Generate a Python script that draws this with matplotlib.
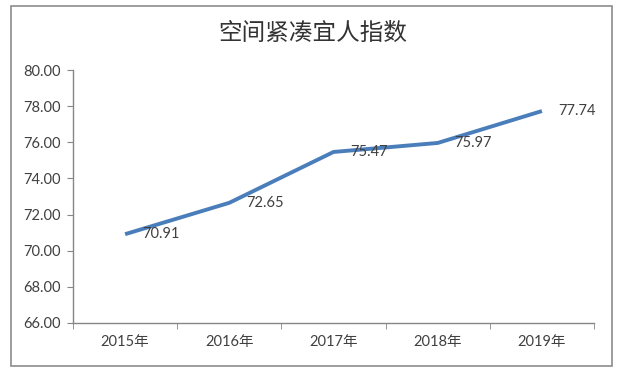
import matplotlib
matplotlib.use("Agg")
import matplotlib.pyplot as plt
from matplotlib.patches import Rectangle

plt.rcParams['font.family'] = ['Lato', 'Noto Sans CJK SC', 'DejaVu Sans']

title = "空间紧凑宜人指数"
categories = ["2015年", "2016年", "2017年", "2018年", "2019年"]
values = [70.91, 72.65, 75.47, 75.97, 77.74]
y_ticks = [66, 68, 70, 72, 74, 76, 78, 80]

W, H = 620, 372
fig = plt.figure(figsize=(W / 100, H / 100), dpi=100)
fig.patch.set_facecolor("white")

# outer border
fig.patches.append(Rectangle((11 / W, 1 - 366 / H), (612 - 11) / W, (366 - 6) / H,
                             transform=fig.transFigure, fill=False,
                             edgecolor="#8c8c8c", linewidth=1.2))

ax = fig.add_axes([73 / W, 1 - 322.7 / H, (594 - 73) / W, (322.7 - 70.3) / H])
x = list(range(len(categories)))
ax.plot(x, values, color="#4A7EBB", linewidth=2.8, solid_capstyle="butt")
for xi, v in zip(x, values):
    ax.annotate(f"{v:.2f}", (xi, v), xytext=(12, 0), textcoords="offset points",
                ha="left", va="center", fontsize=10.5, color="#404040")

ax.set_xlim(-0.5, len(categories) - 0.5)
ax.set_ylim(66, 80)
ax.set_yticks(y_ticks)
ax.set_yticklabels([f"{t:.2f}" for t in y_ticks])
ax.set_xticks(x)
ax.set_xticklabels(categories)
ax.set_xticks([i - 0.5 for i in range(len(categories) + 1)], minor=True)
ax.tick_params(axis="x", which="major", length=0, pad=9, labelsize=10.5, labelcolor="#404040")
ax.tick_params(axis="x", which="minor", length=4.5, color="#868686", direction="out")
ax.tick_params(axis="y", length=4.5, color="#868686", pad=4, labelsize=10.5, labelcolor="#404040")
for s in ["top", "right"]:
    ax.spines[s].set_visible(False)
for s in ["left", "bottom"]:
    ax.spines[s].set_color("#868686")
    ax.spines[s].set_linewidth(1.0)

fig.text(313 / W, 1 - 33 / H, title, ha="center", va="center", fontsize=17,
         fontweight="medium", color="#333333", family=["Noto Sans CJK SC"])

fig.savefig("out.png", dpi=100)
